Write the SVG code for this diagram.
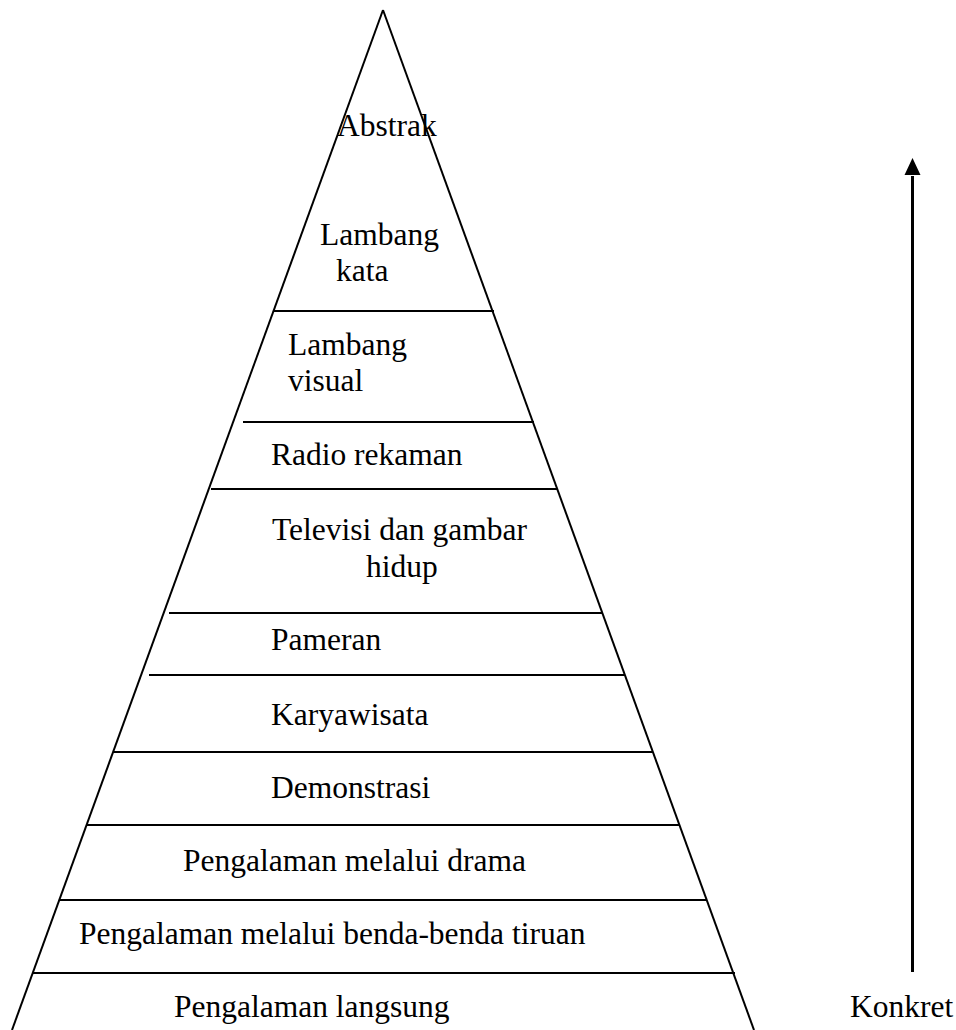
<svg xmlns="http://www.w3.org/2000/svg" width="956" height="1030" viewBox="0 0 956 1030">
<style>
.ln{stroke:#000;stroke-width:2;fill:none}
.t{font-family:"Liberation Serif","Times New Roman",serif;font-size:31.5px;fill:#000}
</style>
<rect width="956" height="1030" fill="#fff"/>
<g id="connectors">
<line class="ln" x1="383" y1="10" x2="12" y2="1030"/>
<line class="ln" x1="383" y1="10" x2="754" y2="1030"/>
<line class="ln" x1="273" y1="311" x2="494" y2="311"/>
<line class="ln" x1="243" y1="422" x2="534" y2="422"/>
<line class="ln" x1="211" y1="489" x2="557" y2="489"/>
<line class="ln" x1="169" y1="613" x2="602" y2="613"/>
<line class="ln" x1="149" y1="675" x2="625" y2="675"/>
<line class="ln" x1="113" y1="752" x2="653" y2="752"/>
<line class="ln" x1="87" y1="825" x2="679" y2="825"/>
<line class="ln" x1="59" y1="900" x2="707" y2="900"/>
<line class="ln" x1="32" y1="973" x2="735" y2="973"/>
<line x1="912.5" y1="972" x2="912.5" y2="176" stroke="#000" stroke-width="3"/>
<path d="M912.5,158 L920.5,175 L904.5,175 z" fill="#000"/>
</g>
<g class="t">
<g id="abstrak"><text x="337" y="136">Abstrak</text></g>
<g id="lambang-kata"><text x="320" y="245">Lambang</text><text x="336" y="281">kata</text></g>
<g id="lambang-visual"><text x="288" y="355">Lambang</text><text x="288" y="391">visual</text></g>
<g id="radio"><text x="271" y="465">Radio rekaman</text></g>
<g id="televisi"><text x="272" y="540">Televisi dan gambar</text><text x="366" y="577">hidup</text></g>
<g id="pameran"><text x="271" y="650">Pameran</text></g>
<g id="karyawisata"><text x="271" y="725">Karyawisata</text></g>
<g id="demonstrasi"><text x="271" y="798">Demonstrasi</text></g>
<g id="drama"><text x="183" y="871">Pengalaman melalui drama</text></g>
<g id="tiruan"><text x="79" y="944">Pengalaman melalui benda-benda tiruan</text></g>
<g id="langsung"><text x="174" y="1017">Pengalaman langsung</text></g>
<g id="konkret"><text x="850" y="1017">Konkret</text></g>
</g>
</svg>
